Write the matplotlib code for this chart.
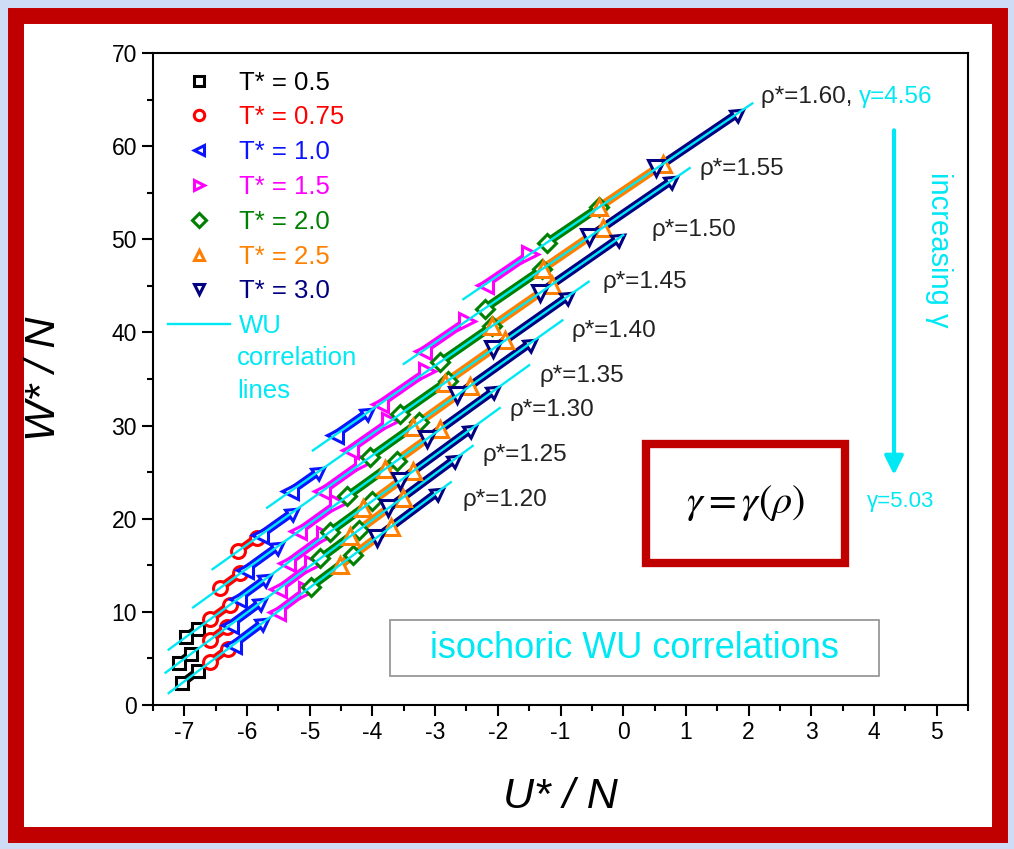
import matplotlib
matplotlib.use("Agg")
import matplotlib.pyplot as plt
from matplotlib.lines import Line2D
from matplotlib.patches import Rectangle

plt.rcParams['font.family'] = ['Liberation Sans', 'DejaVu Sans']
plt.rcParams['axes.unicode_minus'] = False

CYAN = '#00e8f4'

# isochores
rho = [1.20, 1.25, 1.30, 1.35, 1.40, 1.45, 1.50, 1.55, 1.60]
rho_labels = ['ρ*=1.20', 'ρ*=1.25', 'ρ*=1.30', 'ρ*=1.35', 'ρ*=1.40',
              'ρ*=1.45', 'ρ*=1.50', 'ρ*=1.55', 'ρ*=1.60, ']

# WU correlation lines (U start, W start, U end, W end), one per isochore
wu_lines = [(-7.25, 1.28, -2.75, 23.92), (-7.30, 3.47, -2.40, 27.82),
            (-7.25, 5.95, -1.97, 31.88), (-6.86, 10.48, -1.50, 36.48),
            (-6.55, 14.58, -0.97, 41.30), (-5.68, 21.18, -0.55, 45.45),
            (-4.95, 27.33, 0.00, 50.45), (-3.50, 36.62, 1.06, 57.64),
            (-2.55, 43.57, 2.06, 64.59)]

# simulated segments per temperature (U1, W1, U2, W2), from lowest density up
seg_T050 = [(-7.03, 2.39, -6.79, 3.60), (-7.08, 4.56, -6.89, 5.51),
            (-6.98, 7.28, -6.79, 8.21)]
seg_T075 = [(-6.59, 4.60, -6.30, 6.06), (-6.59, 7.00, -6.32, 8.34),
            (-6.59, 9.19, -6.27, 10.76), (-6.43, 12.56, -6.11, 14.12),
            (-6.14, 16.54, -5.84, 17.98)]
seg_T100 = [(-6.22, 6.46, -5.76, 8.78), (-6.27, 8.59, -5.79, 10.97),
            (-6.14, 11.40, -5.71, 13.51), (-6.03, 14.50, -5.52, 16.98),
            (-5.79, 18.22, -5.28, 20.66), (-5.31, 22.93, -4.87, 25.01),
            (-4.60, 28.97, -4.09, 31.35)]
seg_T150 = [(-5.52, 9.98, -5.05, 12.35), (-5.50, 12.41, -4.95, 15.15),
            (-5.36, 15.23, -4.75, 18.23), (-5.18, 18.63, -4.55, 21.68),
            (-4.80, 22.96, -4.15, 26.07), (-4.36, 27.43, -3.72, 30.45),
            (-3.88, 32.33, -3.13, 35.83), (-3.19, 38.04, -2.49, 41.27),
            (-2.21, 45.12, -1.49, 48.41)]
seg_T200 = [(-4.98, 12.70, -4.31, 16.07), (-4.83, 15.74, -4.22, 18.78),
            (-4.68, 18.57, -4.00, 21.91), (-4.40, 22.41, -3.61, 26.24),
            (-4.04, 26.60, -3.25, 30.38), (-3.56, 31.21, -2.80, 34.81),
            (-2.92, 36.81, -2.10, 40.64), (-2.21, 42.56, -1.30, 46.76),
            (-1.22, 49.64, -0.38, 53.47)]
seg_T250 = [(-4.52, 15.01, -3.70, 19.14), (-4.35, 18.13, -3.52, 22.26),
            (-4.15, 21.17, -3.35, 25.10), (-3.80, 25.32, -2.92, 29.59),
            (-3.35, 29.90, -2.45, 34.21), (-2.85, 34.57, -1.88, 39.16),
            (-2.10, 40.64, -1.14, 45.13), (-1.28, 46.85, -0.33, 51.23),
            (-0.38, 53.47, 0.63, 58.07)]
seg_T300 = [(-3.93, 17.98, -2.97, 22.81), (-3.75, 21.11, -2.70, 26.33),
            (-3.56, 24.07, -2.45, 29.52), (-3.13, 28.57, -2.08, 33.66),
            (-2.65, 33.26, -1.49, 38.81), (-2.08, 38.21, -0.89, 43.84),
            (-1.33, 44.24, -0.09, 50.03), (-0.54, 50.26, 0.77, 56.30),
            (0.53, 57.62, 1.81, 63.45)]

temps = ['T* = 0.5', 'T* = 0.75', 'T* = 1.0', 'T* = 1.5', 'T* = 2.0', 'T* = 2.5', 'T* = 3.0']
colors = ['#000000', '#ff0000', '#0a14ff', '#ff00ff', '#008000', '#ff8000', '#000080']
arrow = (3, 0, -55)
series = [(seg_T050, 's', 's', 9), (seg_T075, 'o', 'o', 10), (seg_T100, '<', arrow, 11),
          (seg_T150, '<', '>', 11), (seg_T200, 'D', 'D', 9), (seg_T250, '^', '^', 11),
          (seg_T300, 'v', arrow, 11)]
legend_markers = ['s', 'o', '<', '>', 'D', '^', 'v']

fig = plt.figure(figsize=(10.14, 8.49), dpi=100, facecolor='#cfdcf6')
fig.add_artist(Rectangle((16 / 1014, 14 / 849), 984 / 1014, 819 / 849,
                         transform=fig.transFigure, facecolor='white',
                         edgecolor='#c00000', linewidth=11.5, zorder=-1))
ax = fig.add_axes([153 / 1014, 144 / 849, 815 / 1014, 652 / 849])

for (segs, m_lo, m_hi, ms), c in zip(series, colors):
    for u1, w1, u2, w2 in segs:
        ax.plot([u1, u2], [w1, w2], color=c, lw=6, solid_capstyle='butt', zorder=3)
        ax.plot([u1], [w1], ls='none', marker=m_lo, ms=ms, mfc='white', mec=c, mew=2.2, zorder=4)
        ax.plot([u2], [w2], ls='none', marker=m_hi, ms=ms, mfc='white', mec=c, mew=2.2, zorder=4)

for u1, w1, u2, w2 in wu_lines:
    ax.plot([u1, u2], [w1, w2], color=CYAN, lw=1.7, zorder=5)

# isochore labels
label_pos = [(-2.57, 22.0), (-2.24, 26.85), (-1.81, 31.7), (-1.33, 35.3), (-0.82, 40.1),
             (-0.33, 45.4), (0.45, 51.0), (1.22, 57.5), (2.20, 65.3)]
for txt, (x, y) in zip(rho_labels, label_pos):
    t = ax.text(x, y, txt, fontsize=17.5, color='#222222', ha='left', va='center')
ax.annotate('γ=4.56', xy=(1, 0), xycoords=t, va='bottom', ha='left', fontsize=17.5, color=CYAN)

ax.annotate('', xy=(4.32, 24.4), xytext=(4.32, 62.0),
            arrowprops=dict(arrowstyle='-|>', color=CYAN, lw=3, mutation_scale=28))
ax.text(5.04, 48.9, 'increasing γ', rotation=-90, fontsize=21, color=CYAN, ha='center', va='center')
ax.text(3.89, 21.8, 'γ=5.03', fontsize=16, color=CYAN, ha='left', va='center')

ax.add_patch(Rectangle((0.357, 15.25), 3.184, 12.78, facecolor='white',
                       edgecolor='#c00000', linewidth=6, zorder=6))
ax.text(1.95, 21.7, r'$\gamma = \gamma(\rho)$', fontsize=29, math_fontfamily='stix',
        ha='center', va='center', zorder=7)

ax.add_patch(Rectangle((-3.72, 3.11), 7.80, 6.02, facecolor='white',
                       edgecolor='#999999', linewidth=1.3, zorder=6))
ax.text(0.18, 6.1, 'isochoric WU correlations', fontsize=26, color=CYAN,
        ha='center', va='center', zorder=7)

# legend
handles = [Line2D([], [], ls='none', marker=m, ms=7.5, mfc='white', mec=c, mew=2.2)
           for m, c in zip(legend_markers, colors)]
handles.append(Line2D([], [], color=CYAN, lw=1.7))
ax.legend(handles, temps + ['WU'], loc='upper left', bbox_to_anchor=(0.0184, 0.973),
          frameon=False, fontsize=18.5, handlelength=2.4, handletextpad=0.36,
          labelspacing=0.42, borderpad=0, borderaxespad=0,
          labelcolor=colors + [CYAN])
ax.text(-6.16, 37.3, 'correlation', fontsize=18.5, color=CYAN, va='center')
ax.text(-6.16, 33.7, 'lines', fontsize=18.5, color=CYAN, va='center')

ax.set_xlim(-7.5, 5.5)
ax.set_ylim(0, 70)
ax.set_xticks(range(-7, 6))
ax.set_xticks([x + 0.5 for x in range(-8, 6)], minor=True)
ax.set_yticks(range(0, 71, 10))
ax.set_yticks(range(5, 70, 10), minor=True)
ax.tick_params(which='both', direction='out', width=1.5, labelsize=16.5, top=False, right=False)
ax.tick_params(which='major', length=8)
ax.tick_params(which='minor', length=4)
for s in ax.spines.values():
    s.set_linewidth(1.5)
ax.set_xlabel('U* / N', fontsize=31, style='italic', labelpad=24)
ax.set_ylabel('W* / N', fontsize=31, style='italic', labelpad=34)

fig.savefig('out.png', dpi=100, facecolor=fig.get_facecolor())
